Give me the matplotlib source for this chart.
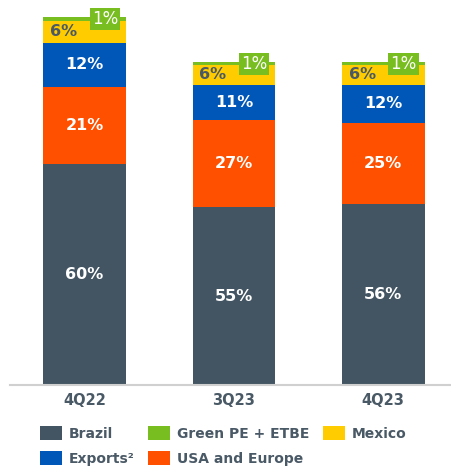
import matplotlib
matplotlib.use("Agg")
import matplotlib.pyplot as plt
import numpy as np

# Sales volume by region (share of each quarter's total)
quarters = ["4Q22", "3Q23", "4Q23"]
total_index = [100.0, 87.8, 87.8]          # total volume, 4Q22 = 100
brazil = [60, 55, 56]
usa_europe = [21, 27, 25]
exports = [12, 11, 12]
mexico = [6, 6, 6]
green_pe = [1, 1, 1]

C_BRAZIL = "#435563"
C_USA = "#FF5000"
C_EXPORTS = "#0057B8"
C_MEXICO = "#FFCC00"
C_GREEN = "#78BE20"
C_TEXT = "#4A5966"

fig = plt.figure(figsize=(4.52, 4.68), dpi=100)
ax = fig.add_axes([0.022, 0.1774, 0.978, 0.8226])

x = np.arange(len(quarters))
width = 0.555
tot = np.array(total_index)

series = [
    ("Brazil", brazil, C_BRAZIL),
    ("USA and Europe", usa_europe, C_USA),
    ("Exports²", exports, C_EXPORTS),
    ("Mexico", mexico, C_MEXICO),
    ("Green PE + ETBE", green_pe, C_GREEN),
]

bottom = np.zeros(len(quarters))
handles = {}
for name, pct, color in series:
    h = tot * np.array(pct) / 100.0
    bars = ax.bar(x, h, width, bottom=bottom, color=color, edgecolor="none", label=name)
    handles[name] = bars
    for i in range(len(quarters)):
        yc = bottom[i] + h[i] / 2
        label = f"{pct[i]}%"
        if name == "Mexico":
            ax.text(x[i] - 0.14, yc, label, ha="center", va="center",
                    fontsize=11.5, fontweight="bold", color=C_TEXT)
        elif name == "Green PE + ETBE":
            ax.text(x[i] + 0.135, yc, label, ha="center", va="center",
                    fontsize=12, color="white",
                    bbox=dict(boxstyle="square,pad=0.12", facecolor=C_GREEN, edgecolor="none"))
        else:
            ax.text(x[i], yc, label, ha="center", va="center",
                    fontsize=11.5, fontweight="bold", color="white")
    bottom += h

ax.set_xlim(-0.5, 2.46)
ax.set_ylim(0, 385 / 368 * 100)
for s in ["top", "right", "left"]:
    ax.spines[s].set_visible(False)
ax.spines["bottom"].set_color("#D0D0D0")
ax.spines["bottom"].set_linewidth(1.5)
ax.set_yticks([])
ax.set_xticks(x)
ax.set_xticklabels(quarters, fontsize=10.5, fontweight="bold", color=C_TEXT)
ax.tick_params(axis="x", length=0, pad=6)

order = ["Brazil", "Exports²", "Green PE + ETBE", "USA and Europe", "Mexico"]
leg = fig.legend([handles[n] for n in order], order, ncol=3,
                 loc="upper left", bbox_to_anchor=(40 / 452, 1 - 426 / 468),
                 frameon=False, borderpad=0, borderaxespad=0,
                 handlelength=1.6, handleheight=1.2, handletextpad=0.5,
                 columnspacing=0.95, labelspacing=0.72,
                 prop=dict(size=10, weight="bold"))
for t in leg.get_texts():
    t.set_color(C_TEXT)

fig.savefig("out.png", dpi=100)
